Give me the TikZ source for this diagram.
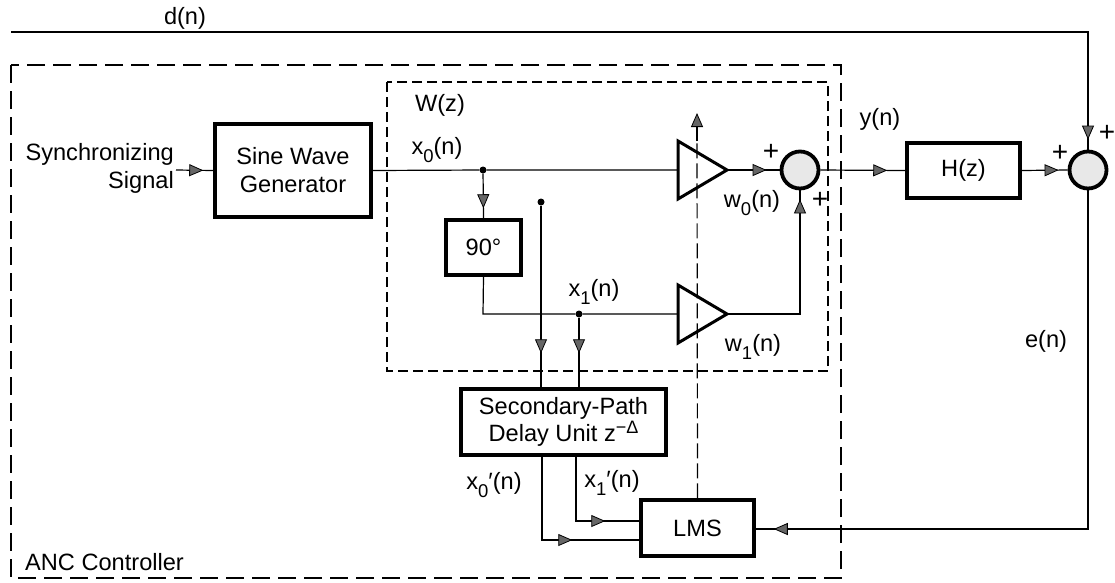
\documentclass[tikz,border=0pt]{standalone}
\usepackage{fontspec}
\setmainfont{Liberation Sans}
\usetikzlibrary{arrows.meta,decorations.markings,calc}
\newcommand\lsub[1]{\raisebox{-0.32em}{\fontsize{18.5}{18.5}\selectfont #1}}
\newcommand\lsup[1]{\raisebox{0.36em}{\fontsize{18}{18}\selectfont #1}}
\begin{document}
\begin{tikzpicture}[x=1pt,y=-1pt,
  font=\fontsize{23.6}{28}\selectfont,
  thinline/.style={line width=1.2pt},
  block/.style={draw, line width=3.5pt, inner sep=0pt, align=center},
  sumnode/.style={draw, circle, line width=3.8pt, fill=black!9, minimum size=37pt, inner sep=0pt},
  dot/.style={circle, fill, inner sep=0pt, minimum size=7pt},
  lbl/.style={inner sep=0pt},
  plus/.style={inner sep=0pt, font=\fontsize{28}{28}\selectfont},
  amp/.style={line width=3pt},
  tri/.tip={Triangle[length=14pt,width=12pt,fill=black!60,line width=0.8pt]},
  arrowat/.style={postaction={decorate,decoration={markings,mark=at position #1 with {\arrow{tri}}}}},
  outerdash/.style={line width=1.2pt, dash pattern=on 18pt off 8pt},
  wdash/.style={line width=1.2pt, dash pattern=on 10pt off 5pt},
  adapt/.style={line width=1.2pt, dash pattern=on 15pt off 5pt}]
\useasboundingbox (0,0) rectangle (1115,582);

% dashed boxes
\draw[outerdash] (11,65) rectangle (841,578);
\draw[wdash] (387,82) rectangle (828,371);
\node[lbl, anchor=west] (anc) at (25,562) {ANC Controller};
\node[lbl] (wz) at (440,105) {W(z)};

% blocks
\node[block, minimum width=156pt, minimum height=93pt] (swg) at (293,170.5) {Sine Wave\\Generator};
\node[block, minimum width=75pt, minimum height=55pt] (ph) at (483.5,247.5) {90°};
\node[block, minimum width=205pt, minimum height=66pt] (sp) at (563.5,422) {Secondary-Path\\[-1pt]Delay Unit z\lsup{−Δ}};
\node[block, minimum width=113pt, minimum height=56pt] (lms) at (697.5,528) {LMS};
\node[block, minimum width=113pt, minimum height=55pt] (hz) at (963.5,170.5) {H(z)};
\node[sumnode] (s1) at (800,170) {};
\node[sumnode] (s2) at (1088,170) {};

% amplifiers
\coordinate (a0in) at (678,170);
\coordinate (a0out) at (727,170);
\coordinate (a1in) at (678,314);
\coordinate (a1out) at (727,314);
\draw[amp] (678,141) -- (a0out) -- (678,199) -- cycle;
\draw[amp] (678,285) -- (a1out) -- (678,343) -- cycle;

% junction dots
\node[dot] (j0) at (483,170) {};
\node[dot] (j1) at (579,314) {};
\node[dot] (j2) at (541,202) {};

% coordinates
\coordinate (syncin) at (176,170);
\coordinate (dstart) at (11,32);
\coordinate (phc) at (483,314);
\coordinate (a1c) at (800,314);
\coordinate (x0pa) at (542,457);
\coordinate (x0pb) at (542,540);
\coordinate (x1pa) at (576,457);
\coordinate (x1pb) at (576,521);
\coordinate (ec) at (1088,529);
\coordinate (adtop) at (697,141);
\coordinate (adtip) at (697,113);

% connectors
\draw[thinline, arrowat=-10pt] (syncin) -- (swg.west);
\draw[thinline] (swg.east) -- (j0) -- (a0in);
\draw[thinline, arrowat=-10pt] (j0) -- (ph.north);
\draw[thinline] (ph.south) -- (phc) -- (j1) -- (a1in);
\draw[thinline, arrowat=-13pt] (a0out) -- (s1);
\draw[thinline, arrowat=-9pt] (a1out) -- (a1c) -- (s1.south);
\draw[thinline, arrowat=-34pt] (j2) -- (j2 |- sp.north);
\draw[thinline, arrowat=-34pt] (j1) -- (j1 |- sp.north);
\draw[thinline, arrowat=-67pt] (x0pa) -- (x0pb) -- (x0pb -| lms.west);
\draw[thinline, arrowat=-34pt] (x1pa) -- (x1pb) -- (x1pb -| lms.west);
\draw[thinline, arrowat=-18pt] (s1.east) -- (hz.west);
\draw[thinline, arrowat=-9pt] (hz.east) -- (s2.west);
\draw[thinline, arrowat=-10pt] (dstart) -| (s2.north);
\draw[thinline, arrowat=-18pt] (s2.south) -- (ec) -- (ec -| lms.east);
\draw[adapt] (lms.north) -- (adtop);
\draw[thinline, -tri] (adtop) -- (adtip);

% labels
\node[lbl] (dl) at (185,18) {d(n)};
\node[lbl, anchor=east, align=right] (sync) at (174,168) {Synchronizing\\Signal};
\node[lbl] (x0l) at (437,150) {x\lsub{0}(n)};
\node[lbl] (x1l) at (594,292) {x\lsub{1}(n)};
\node[lbl] (w0l) at (752,203) {w\lsub{0}(n)};
\node[lbl] (w1l) at (753,347) {w\lsub{1}(n)};
\node[lbl] (x0pl) at (494,485) {x\lsub{0}′(n)};
\node[lbl] (x1pl) at (612,483) {x\lsub{1}′(n)};
\node[lbl] (yl) at (880,119) {y(n)};
\node[lbl] (el) at (1046,341) {e(n)};
\node[plus] (p1) at (771,152) {+};
\node[plus] (p2) at (820,200) {+};
\node[plus] (p3) at (1060,153) {+};
\node[plus] (p4) at (1107,133) {+};
\end{tikzpicture}
\end{document}
